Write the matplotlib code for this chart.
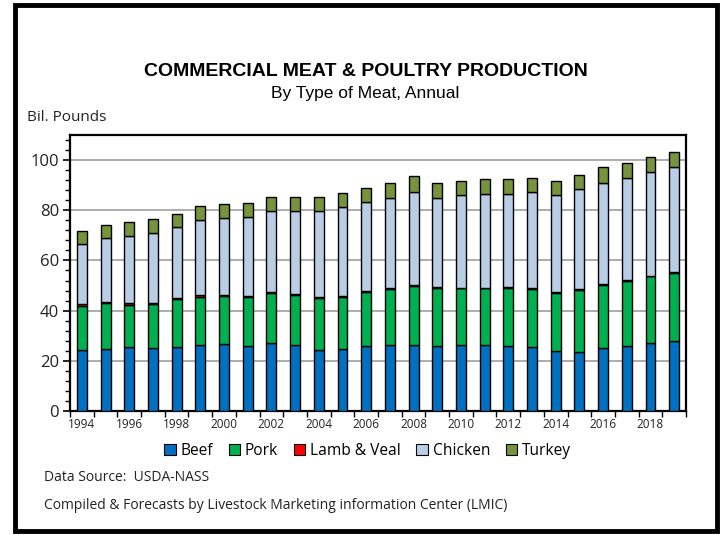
import numpy as np
import matplotlib
matplotlib.use("Agg")
import matplotlib.pyplot as plt
from matplotlib.patches import Rectangle, Patch

years = list(range(1994, 2020))
beef = [24.3, 24.9, 25.5, 25.2, 25.6, 26.3, 26.7, 26.0, 26.9, 26.1, 24.5, 24.8, 26.0,
        26.4, 26.4, 26.0, 26.3, 26.1, 26.0, 25.6, 24.1, 23.6, 25.0, 26.0, 27.2, 27.8]
pork = [17.7, 18.1, 16.9, 17.5, 19.1, 19.3, 19.1, 19.5, 20.0, 20.3, 20.6, 20.8, 21.3,
        22.1, 23.6, 23.2, 22.6, 22.8, 23.0, 23.1, 22.9, 24.6, 25.2, 25.9, 26.4, 27.2]
lamb_veal = [0.6, 0.6, 0.6, 0.5, 0.5, 0.5, 0.5, 0.4, 0.4, 0.4, 0.4, 0.35, 0.35,
             0.35, 0.35, 0.3, 0.3, 0.3, 0.3, 0.3, 0.25, 0.25, 0.25, 0.25, 0.25, 0.25]
chicken = [24.1, 25.4, 26.9, 27.8, 28.1, 30.2, 30.6, 31.4, 32.4, 32.8, 34.2, 35.3, 35.6,
           36.2, 37.0, 35.4, 36.9, 37.4, 37.3, 38.2, 38.7, 40.0, 40.6, 40.9, 41.2, 41.8]
turkey = [5.2, 5.0, 5.6, 5.4, 5.3, 5.3, 5.5, 5.6, 5.6, 5.5, 5.4, 5.5, 5.7,
          6.0, 6.4, 5.8, 5.7, 5.8, 6.0, 5.6, 5.8, 5.7, 6.0, 5.9, 6.0, 6.3]

names = ["Beef", "Pork", "Lamb & Veal", "Chicken", "Turkey"]
colors = ["#0070C0", "#00B050", "#FF0000", "#B9CDE5", "#77933C"]

body_font = ["Open Sans", "DejaVu Sans"]
title_font = ["Liberation Sans", "DejaVu Sans"]

fig = plt.figure(figsize=(7.21, 5.35), dpi=100)
ax = fig.add_axes([0.0971, 0.2318, 0.8544, 0.5159])

x = np.arange(len(years))
bottom = np.zeros(len(years))
for vals, c in zip([beef, pork, lamb_veal, chicken, turkey], colors):
    ax.bar(x, vals, bottom=bottom, width=0.42, color=c, edgecolor="black",
           linewidth=1.0, zorder=3)
    bottom += np.array(vals)

ax.set_xlim(-0.5, len(years) - 0.5)
ax.set_ylim(0, 110)
ax.set_yticks(range(0, 101, 20))
ax.set_yticks(range(0, 109, 4), minor=True)
ax.yaxis.grid(True, which="major", color="#A6A6A6", linewidth=1.3, zorder=0)
ax.set_xticks(x[::2])
ax.set_xticklabels([str(y) for y in years[::2]])
ax.set_xticks(np.arange(-0.5, len(years), 1.0), minor=True)

ax.tick_params(axis="y", which="major", length=5, width=1.2, direction="out",
               labelsize=12, pad=3)
ax.tick_params(axis="y", which="minor", length=3.5, width=1.0, direction="out")
ax.tick_params(axis="x", which="major", length=0, labelsize=8.5, pad=5)
ax.tick_params(axis="x", which="minor", length=4, width=1.0, direction="out")
for lab in ax.get_xticklabels() + ax.get_yticklabels():
    lab.set_family(body_font)
    lab.set_color("#222222")
for s in ax.spines.values():
    s.set_linewidth(1.6)
    s.set_color("black")

fig.text(0.507, 0.866, "COMMERCIAL MEAT & POULTRY PRODUCTION", ha="center",
         va="center", fontsize=14, fontweight="bold", family=title_font)
fig.text(0.507, 0.826, "By Type of Meat, Annual", ha="center", va="center",
         fontsize=12.5, family=title_font)
fig.text(0.038, 0.781, "Bil. Pounds", ha="left", va="center", fontsize=11,
         family=body_font, color="#222222")

handles = [Patch(facecolor=c, edgecolor="black", linewidth=0.8) for c in colors]
leg = fig.legend(handles, names, loc="center", bbox_to_anchor=(0.51, 0.157), ncol=5,
                 frameon=False, handlelength=0.75, handleheight=0.75,
                 handletextpad=0.3, columnspacing=1.0,
                 prop={"family": body_font, "size": 11.2})

fig.text(0.061, 0.108, "Data Source:  USDA-NASS", ha="left", va="center",
         fontsize=10, family=body_font, color="#222222")
fig.text(0.061, 0.056, "Compiled & Forecasts by Livestock Marketing information Center (LMIC)",
         ha="left", va="center", fontsize=10, family=body_font, color="#222222")

fig.patches.append(Rectangle((0.0208, 0.0075), 0.973, 0.983, transform=fig.transFigure,
                             fill=False, edgecolor="black", linewidth=3.5))

fig.savefig("out.png", dpi=100)
